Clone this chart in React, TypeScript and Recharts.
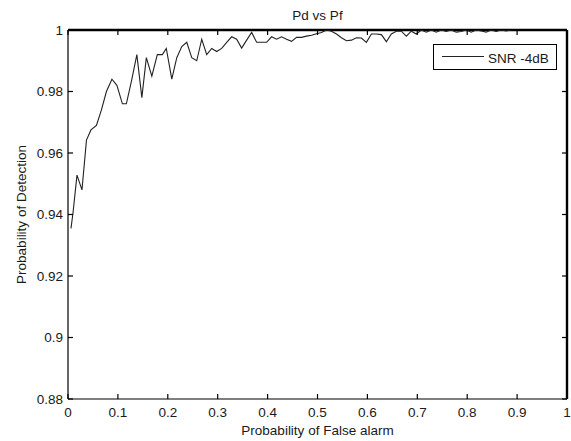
import React from 'react';
import { LineChart, Line, XAxis, YAxis, Legend, ReferenceLine } from 'recharts';

const pf = [
  0.006, 0.010, 0.018, 0.028, 0.037, 0.046, 0.057, 0.067, 0.077, 0.088,
  0.098, 0.109, 0.117, 0.128, 0.138, 0.148, 0.157, 0.168, 0.179, 0.189,
  0.197, 0.208, 0.218, 0.228, 0.238, 0.248, 0.258, 0.268, 0.278, 0.288,
  0.298, 0.308, 0.318, 0.328, 0.338, 0.348, 0.358, 0.368, 0.378, 0.388,
  0.398, 0.408, 0.418, 0.428, 0.438, 0.448, 0.458, 0.468, 0.478, 0.488,
  0.498, 0.508, 0.518, 0.528, 0.538, 0.548, 0.558, 0.568, 0.578, 0.588,
  0.598, 0.608, 0.618, 0.628, 0.638, 0.648, 0.658, 0.668, 0.678, 0.688,
  0.698, 0.708, 0.718, 0.728, 0.738, 0.748, 0.758, 0.768, 0.778, 0.788,
  0.798, 0.808, 0.818, 0.828, 0.838, 0.848, 0.858, 0.868, 0.878, 0.888,
];

const pd = [
  0.9355, 0.9405, 0.9528, 0.948, 0.9642, 0.9675, 0.969, 0.974, 0.98, 0.984,
  0.982, 0.976, 0.976, 0.984, 0.992, 0.978, 0.991, 0.985, 0.992, 0.992,
  0.994, 0.984, 0.991, 0.9946, 0.996, 0.991, 0.99, 0.997, 0.992, 0.994,
  0.993, 0.994, 0.996, 0.9978, 0.997, 0.9941, 0.9967, 0.9992, 0.996, 0.996,
  0.996, 0.9978, 0.997, 0.9978, 0.997, 0.9963, 0.9976, 0.9976, 0.998, 0.9983,
  0.9988, 0.9992, 1.0, 0.9996, 0.9987, 0.9975, 0.9965, 0.9967, 0.9975, 0.9974,
  0.996, 0.9987, 0.9987, 0.9985, 0.9962, 0.9987, 0.9996, 0.9996, 0.998, 0.9996,
  0.9987, 1.0, 0.9993, 1.0, 0.9993, 1.0, 0.9995, 1.0, 0.9993, 0.9995,
  1.0, 0.9993, 1.0, 0.9997, 0.9993, 1.0, 0.9995, 1.0, 0.9997, 1.0,
];

const xTicks = [0, 0.1, 0.2, 0.3, 0.4, 0.5, 0.6, 0.7, 0.8, 0.9, 1];
const yTicks = [0.88, 0.9, 0.92, 0.94, 0.96, 0.98, 1];

const title = 'Pd vs Pf';
const xLabel = 'Probability of False alarm';
const yLabel = 'Probability of Detection';
const seriesName = 'SNR -4dB';

const data = pf.map((x, i) => ({ pf: x, pd: pd[i] }));

const FONT = '"Liberation Sans", Arial, sans-serif';
const FS = 13.5;
const TXT = '#1a1a1a';
const TICK_LEN = 5;
const PLOT_TOP = 30;
const PLOT_RIGHT = 567;

const fmt = (v: number) => String(Number(v.toFixed(4)));

const BottomTick = (p: any) => {
  const x = p.payload.coordinate;
  const y = p.y;
  return (
    <g>
      <line x1={x} y1={y} x2={x} y2={y - TICK_LEN} stroke="#000" strokeWidth={1.2} />
      <line x1={x} y1={PLOT_TOP} x2={x} y2={PLOT_TOP + TICK_LEN} stroke="#000" strokeWidth={1.2} />
      <text x={x} y={y + 18} textAnchor="middle" fontFamily={FONT} fontSize={FS} fill={TXT}>
        {fmt(p.payload.value)}
      </text>
    </g>
  );
};

const LeftTick = (p: any) => {
  const x = p.x;
  const y = p.payload.coordinate;
  return (
    <g>
      <line x1={x} y1={y} x2={x + TICK_LEN} y2={y} stroke="#000" strokeWidth={1.2} />
      <line x1={PLOT_RIGHT} y1={y} x2={PLOT_RIGHT - TICK_LEN} y2={y} stroke="#000" strokeWidth={1.2} />
      <text x={x - 5} y={y} dy="0.355em" textAnchor="end" fontFamily={FONT} fontSize={FS} fill={TXT}>
        {fmt(p.payload.value)}
      </text>
    </g>
  );
};

const LegendBox = () => (
  <svg width={124} height={26} style={{ display: 'block' }}>
    <rect x={0.5} y={0.5} width={123} height={25} fill="#fff" stroke="#000" strokeWidth={1} />
    <line x1={9} y1={12.5} x2={51} y2={12.5} stroke="#222" strokeWidth={1} />
    <text x={55} y={19} fontFamily={FONT} fontSize={FS} fill={TXT}>
      {seriesName}
    </text>
  </svg>
);

export default function App() {
  return (
    <div style={{ position: 'absolute', left: 0, top: 0, background: '#fff' }}>
      <LineChart
        width={571}
        height={441}
        data={data}
        margin={{ top: 30, right: 4, bottom: 0, left: 0 }}
      >
        <XAxis
          dataKey="pf"
          type="number"
          domain={[0, 1]}
          ticks={xTicks}
          allowDataOverflow
          height={42}
          tickSize={0}
          tickMargin={0}
          tickLine={false}
          tick={BottomTick}
          stroke="#000"
          axisLine={{ stroke: '#000', strokeWidth: 1.2 }}
          label={{
            content: (p: any) => {
              const vb = p.viewBox || {};
              return (
                <g>
                  <text
                    x={vb.x + vb.width / 2}
                    y={435}
                    textAnchor="middle"
                    fontFamily={FONT}
                    fontSize={FS}
                    fill={TXT}
                  >
                    {xLabel}
                  </text>
                  <text
                    x={vb.x + vb.width / 2}
                    y={20}
                    textAnchor="middle"
                    fontFamily={FONT}
                    fontSize={FS}
                    fill={TXT}
                  >
                    {title}
                  </text>
                </g>
              );
            },
          }}
        />
        <YAxis
          type="number"
          domain={[0.88, 1]}
          ticks={yTicks}
          allowDataOverflow
          width={68}
          tickSize={0}
          tickMargin={0}
          tickLine={false}
          tick={LeftTick}
          stroke="#000"
          axisLine={{ stroke: '#000', strokeWidth: 1.2 }}
          label={{
            content: (p: any) => {
              const vb = p.viewBox || {};
              const cy = vb.y + vb.height / 2;
              return (
                <text
                  x={21}
                  y={cy}
                  transform={`rotate(-90, 21, ${cy})`}
                  textAnchor="middle"
                  dominantBaseline="central"
                  fontFamily={FONT}
                  fontSize={FS}
                  fill={TXT}
                >
                  {yLabel}
                </text>
              );
            },
          }}
        />
        <ReferenceLine y={1} stroke="#000" strokeWidth={2.4} ifOverflow="visible" />
        <ReferenceLine x={1} stroke="#000" strokeWidth={2.4} ifOverflow="visible" />
        <Legend
          layout="vertical"
          align="center"
          verticalAlign="middle"
          content={() => <LegendBox />}
          wrapperStyle={{ position: 'absolute', left: 433, top: 44, width: 124, height: 26 }}
        />
        <Line
          type="linear"
          dataKey="pd"
          name={seriesName}
          stroke="#222"
          strokeWidth={1.1}
          dot={false}
          isAnimationActive={false}
        />
      </LineChart>
    </div>
  );
}
